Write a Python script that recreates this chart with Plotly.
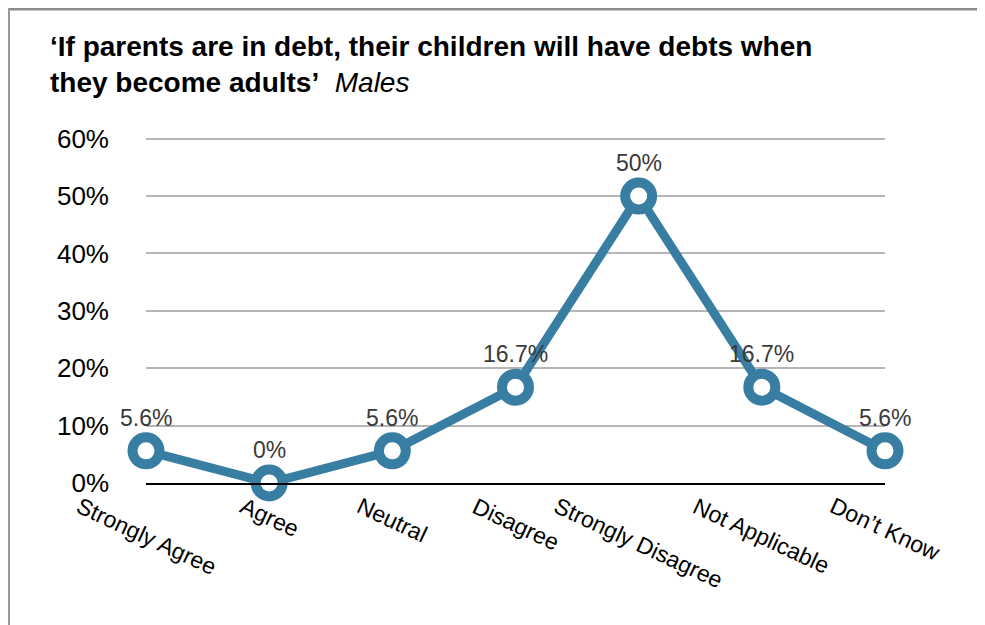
import plotly.graph_objects as go

categories = ["Strongly Agree", "Agree", "Neutral", "Disagree",
              "Strongly Disagree", "Not Applicable", "Don\u2019t Know"]
values = [5.6, 0, 5.6, 16.7, 50, 16.7, 5.6]
value_labels = ["5.6%", "0%", "5.6%", "16.7%", "50%", "16.7%", "5.6%"]
y_ticks = [0, 10, 20, 30, 40, 50, 60]
y_tick_labels = ["0%", "10%", "20%", "30%", "40%", "50%", "60%"]

FONT = "Liberation Sans, Arial, Helvetica, sans-serif"
BLUE = "#387ea3"

# page is offset by the 8px default body margin
OFF = 8
W, H = 985 - OFF, 625 - OFF
Y_MAX = 61.0
PX_PER_UNIT = 344 / 60
PW = 739
PH = round(PX_PER_UNIT * Y_MAX)
ML = 146 - OFF
MB = H - (483 - OFF)
MT = H - MB - PH
MR = W - ML - PW

def px_x(px):
    return (px - OFF - ML) / PW

def px_y(py):
    return (MT + PH - (py - OFF)) / PH

fig = go.Figure()
fig.add_trace(go.Scatter(
    x=list(range(len(categories))), y=values,
    mode="lines+markers",
    line=dict(color=BLUE, width=9),
    marker=dict(size=27, color="white", line=dict(color=BLUE, width=10)),
    cliponaxis=False, hoverinfo="skip", showlegend=False,
))

annotations = []
for i, (v, t) in enumerate(zip(values, value_labels)):
    annotations.append(dict(
        x=i, y=v, xref="x", yref="y", text=t, showarrow=False,
        yshift=33, font=dict(family=FONT, size=23, color="#3a3a3a"),
    ))
for i, c in enumerate(categories):
    annotations.append(dict(
        x=i, y=px_y(490), xref="x", yref="paper", text=c, showarrow=False,
        textangle=25, xanchor="center", yanchor="top",
        font=dict(family=FONT, size=23, color="black"),
    ))

shapes = [
    dict(type="line", xref="paper", yref="paper",
         x0=px_x(8), x1=px_x(1000), y0=px_y(9), y1=px_y(9),
         line=dict(color="#8c8c8c", width=3)),
    dict(type="line", xref="paper", yref="paper",
         x0=px_x(9), x1=px_x(9), y0=px_y(8), y1=px_y(640),
         line=dict(color="#9a9a9a", width=2)),
]

fig.update_layout(
    width=W, height=H,
    margin=dict(l=ML, r=MR, t=MT, b=MB, pad=0),
    paper_bgcolor="white", plot_bgcolor="white",
    title=dict(
        text="<b>\u2018If parents are in debt, their children will have debts when<br>"
             "they become adults\u2019</b>  <i>Males</i>",
        x=(50 - OFF) / W, xanchor="left", xref="container",
        y=1 - 48 / H, yanchor="top", yref="container",
        font=dict(family=FONT, size=28, color="black"),
    ),
    xaxis=dict(
        type="linear", range=[0, len(categories) - 1],
        showgrid=False, zeroline=False, showticklabels=False,
        showline=True, linecolor="black", linewidth=2, ticks="",
    ),
    yaxis=dict(
        range=[0, Y_MAX], tickvals=y_ticks, ticktext=y_tick_labels,
        showgrid=True, gridcolor="#b5b5b5", gridwidth=2,
        zeroline=False, showline=False, ticks="",
        tickfont=dict(family=FONT, size=26, color="black"),
        ticklabelstandoff=36,
    ),
    annotations=annotations,
    shapes=shapes,
)

fig.write_html("out.html")
